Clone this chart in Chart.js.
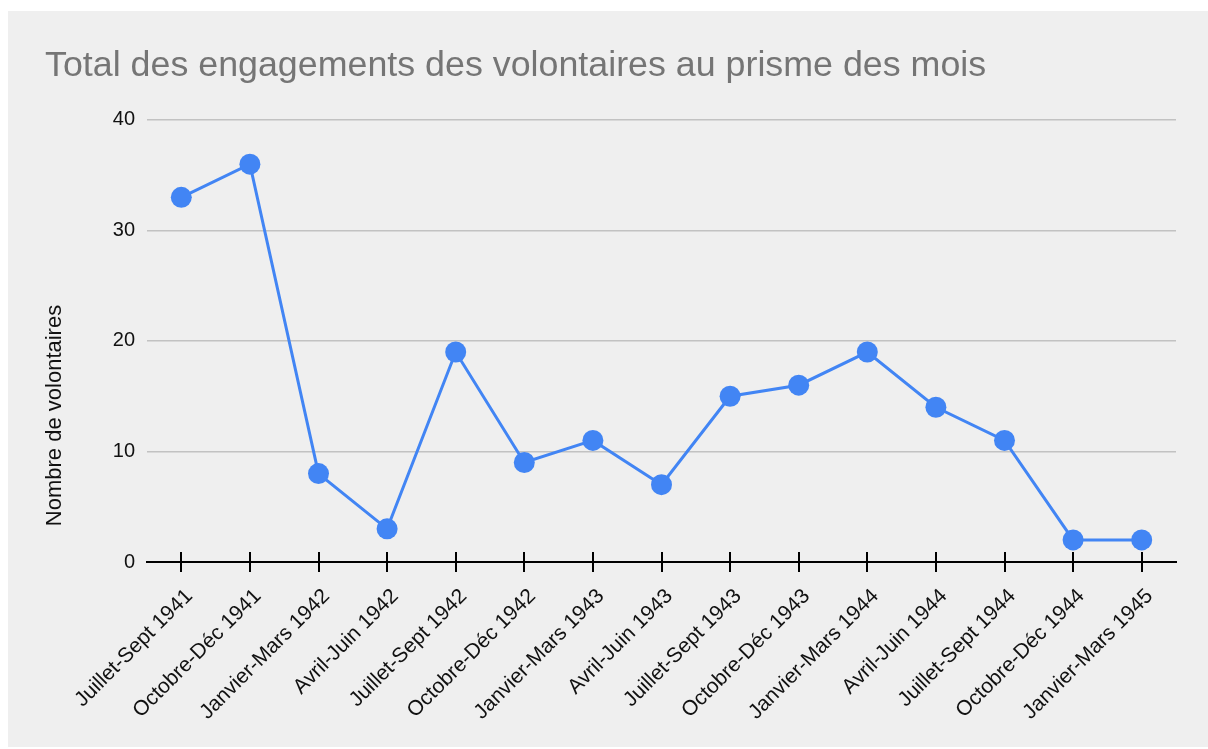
<!DOCTYPE html>
<html lang="fr">
<head>
<meta charset="utf-8">
<title>Total des engagements des volontaires</title>
<script src="https://cdn.jsdelivr.net/npm/chart.js@4"></script>
<style>
    html, body { margin: 0; padding: 0; background: #ffffff; }
    #cadre {
        position: absolute;
        left: 8px;
        top: 11px;
        width: 1200px;
        height: 736px;
        background: #efefef;
    }
</style>
</head>
<body>
<div id="cadre"><canvas id="engagements"></canvas></div>
<script>
// Données
const trimestres = [
    'Juillet-Sept 1941', 'Octobre-Déc 1941', 'Janvier-Mars 1942', 'Avril-Juin 1942',
    'Juillet-Sept 1942', 'Octobre-Déc 1942', 'Janvier-Mars 1943', 'Avril-Juin 1943',
    'Juillet-Sept 1943', 'Octobre-Déc 1943', 'Janvier-Mars 1944', 'Avril-Juin 1944',
    'Juillet-Sept 1944', 'Octobre-Déc 1944', 'Janvier-Mars 1945'
];
const volontaires = [33, 36, 8, 3, 19, 9, 11, 7, 15, 16, 19, 14, 11, 2, 2];
const graduationsY = [0, 10, 20, 30, 40];

const police = '"Liberation Sans", Arial, sans-serif';

// Titre de l'axe Y centré sur la zone graphique + étiquettes (comme Google Sheets)
const titreAxeY = {
    id: 'titreAxeY',
    afterDraw(chart) {
        const ctx = chart.ctx;
        const y = (chart.chartArea.top + chart.scales.x.bottom - 36) / 2;
        ctx.save();
        ctx.translate(47, y);
        ctx.rotate(-Math.PI / 2);
        ctx.font = '22px ' + police;
        ctx.fillStyle = '#111111';
        ctx.textAlign = 'center';
        ctx.textBaseline = 'middle';
        ctx.fillText('Nombre de volontaires', 0, 0);
        ctx.restore();
    }
};

// Partie haute des graduations de l'axe X (elles traversent l'axe)
const graduationsX = {
    id: 'graduationsX',
    beforeDatasetsDraw(chart) {
        const ctx = chart.ctx;
        const x = chart.scales.x;
        const bas = chart.chartArea.bottom;
        ctx.save();
        ctx.strokeStyle = '#000000';
        ctx.lineWidth = 2;
        ctx.beginPath();
        x.ticks.forEach((t, i) => {
            const px = Math.round(x.getPixelForTick(i));
            ctx.moveTo(px, bas - 10);
            ctx.lineTo(px, bas);
        });
        ctx.stroke();
        ctx.restore();
    }
};

const ctx = document.getElementById('engagements').getContext('2d');
new Chart(ctx, {
    type: 'line',
    data: {
        labels: trimestres,
        datasets: [{
            label: 'Volontaires',
            data: volontaires,
            borderColor: '#4285f4',
            backgroundColor: '#4285f4',
            borderWidth: 3,
            pointRadius: 10.5,
            pointHoverRadius: 10.5,
            pointBorderWidth: 0,
            fill: false,
            tension: 0
        }]
    },
    options: {
        responsive: true,
        maintainAspectRatio: false,
        animation: false,
        layout: {
            padding: { left: 37, right: 32, top: 0, bottom: 0 }
        },
        plugins: {
            legend: { display: false },
            tooltip: { enabled: false },
            title: {
                display: true,
                text: 'Total des engagements des volontaires au prisme des mois',
                align: 'start',
                color: '#757575',
                font: { family: police, size: 35.8, weight: 'normal' },
                padding: { top: 34, bottom: 32 }
            }
        },
        scales: {
            x: {
                offset: true,
                grid: {
                    offset: false,
                    drawOnChartArea: false,
                    color: '#000000',
                    lineWidth: 2,
                    tickLength: 10
                },
                border: { display: true, color: '#000000', width: 2 },
                ticks: {
                    autoSkip: false,
                    minRotation: 45,
                    maxRotation: 45,
                    padding: 12,
                    labelOffset: 8,
                    color: '#111111',
                    font: { family: police, size: 21 }
                },
                afterFit(scale) { scale.height = 185; }
            },
            y: {
                min: 0,
                max: 40,
                afterBuildTicks(scale) {
                    scale.ticks = graduationsY.map(v => ({ value: v }));
                },
                grid: {
                    color: ctx => ctx.tick && ctx.tick.value === 0 ? 'rgba(0,0,0,0)' : '#c2c2c2',
                    lineWidth: 1.5,
                    drawTicks: false
                },
                border: { display: false },
                ticks: {
                    padding: 12,
                    color: '#111111',
                    font: { family: police, size: 20 }
                },
                afterFit(scale) { scale.width = 102; }
            }
        }
    },
    plugins: [titreAxeY, graduationsX]
});
</script>
</body>
</html>
